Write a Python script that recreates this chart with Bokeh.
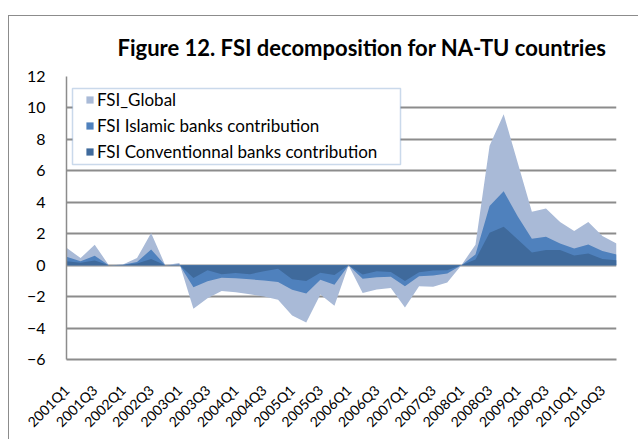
from bokeh.plotting import figure
from bokeh.models import (Range1d, FixedTicker, BoxAnnotation, Legend, LegendItem, Title, InlineStyleSheet)
from bokeh.embed import file_html
from bokeh.resources import INLINE
import math

quarters = ["2001Q1", "2001Q2", "2001Q3", "2001Q4", "2002Q1", "2002Q2", "2002Q3", "2002Q4",
            "2003Q1", "2003Q2", "2003Q3", "2003Q4", "2004Q1", "2004Q2", "2004Q3", "2004Q4",
            "2005Q1", "2005Q2", "2005Q3", "2005Q4", "2006Q1", "2006Q2", "2006Q3", "2006Q4",
            "2007Q1", "2007Q2", "2007Q3", "2007Q4", "2008Q1", "2008Q2", "2008Q3", "2008Q4",
            "2009Q1", "2009Q2", "2009Q3", "2009Q4", "2010Q1", "2010Q2", "2010Q3", "2010Q4"]

fsi_global = [1.1, 0.45, 1.3, 0.0, 0.05, 0.45, 2.05, 0.0, 0.13, -2.78, -2.1, -1.64, -1.72, -1.85,
              -2.0, -2.2, -3.2, -3.65, -1.86, -2.58, 0.0, -1.77, -1.55, -1.45, -2.7, -1.34, -1.38,
              -1.1, 0.0, 1.3, 7.6, 9.6, 6.5, 3.4, 3.6, 2.74, 2.17, 2.74, 1.85, 1.38]
fsi_islamic = [0.53, 0.25, 0.6, 0.0, 0.02, 0.2, 1.0, 0.0, 0.05, -1.4, -1.03, -0.8, -0.83, -0.9,
               -0.98, -1.07, -1.56, -1.8, -0.92, -1.25, 0.0, -0.87, -0.77, -0.74, -1.34, -0.7, -0.66,
               -0.53, 0.0, 0.68, 3.77, 4.7, 3.1, 1.68, 1.8, 1.38, 1.06, 1.32, 0.9, 0.68]
fsi_conventional = [0.25, 0.15, 0.3, 0.0, 0.01, 0.1, 0.4, 0.0, 0.02, -0.82, -0.33, -0.58, -0.5, -0.58,
                    -0.38, -0.22, -0.9, -1.0, -0.48, -0.63, 0.0, -0.6, -0.38, -0.43, -1.0, -0.45, -0.34,
                    -0.32, 0.0, 0.36, 2.06, 2.45, 1.64, 0.8, 0.96, 0.96, 0.62, 0.74, 0.4, 0.32]

y_ticks = [-6, -4, -2, 0, 2, 4, 6, 8, 10, 12]
series_names = ["FSI_Global", "FSI Islamic banks contribution", "FSI Conventionnal banks contribution"]
colors = ["#A9BAD7", "#4F81BD", "#3F6A9C"]

FONT = "Lato"
W, H = 638, 439
x = list(range(len(quarters)))

p = figure(width=W, height=H, output_backend="svg", toolbar_location=None,
           x_range=Range1d(0, len(quarters) - 1), y_range=Range1d(-6, 12),
           min_border_left=66, min_border_right=22, min_border_top=76, min_border_bottom=79)

# outer chart-area border (only its left and top edges are inside the window)
p.stylesheets = [InlineStyleSheet(css=(
    ":host { position: relative; }"
    ":host::after { content: ''; position: absolute; left: 8px; top: 15px; right: 0; bottom: 0;"
    " border-left: 1.5px solid #8C8C8C; border-top: 1.5px solid #8C8C8C;"
    " pointer-events: none; box-sizing: border-box; }"))]

p.title = Title(text="Figure 12. FSI decomposition for NA-TU countries", align="left",
                offset=51, text_font=FONT, text_font_size="22px", text_font_style="bold",
                text_color="#000000", standoff=31)

renderers = []
for vals, c in zip([fsi_global, fsi_islamic, fsi_conventional], colors):
    r = p.varea(x=x, y1=[0] * len(x), y2=vals, fill_color=c)
    renderers.append(r)

p.outline_line_color = None
p.background_fill_color = "white"
p.border_fill_color = "white"

p.xgrid.grid_line_color = None
p.ygrid.grid_line_color = "#8C8C8C"
p.ygrid.grid_line_width = 1.8
p.ygrid.ticker = FixedTicker(ticks=y_ticks)
p.ygrid.level = "underlay"

p.yaxis.ticker = FixedTicker(ticks=y_ticks)
p.yaxis.axis_line_color = "#8C8C8C"
p.yaxis.axis_line_width = 1.5
p.yaxis.major_tick_line_color = None
p.yaxis.minor_tick_line_color = None
p.yaxis.major_tick_out = 0
p.yaxis.major_tick_in = 0
p.yaxis.minor_tick_out = 0
p.yaxis.major_label_standoff = 21
p.yaxis.major_label_text_font = FONT
p.yaxis.major_label_text_font_size = "16px"
p.yaxis.major_label_text_color = "#000000"

p.xaxis.ticker = FixedTicker(ticks=x[::2])
p.xaxis.major_label_overrides = {i: quarters[i] for i in x[::2]}
p.xaxis.major_label_orientation = math.pi / 4
p.xaxis.axis_line_color = "#8C8C8C"
p.xaxis.axis_line_width = 1.8
p.xaxis.major_tick_line_color = None
p.xaxis.minor_tick_line_color = None
p.xaxis.major_tick_out = 0
p.xaxis.major_tick_in = 0
p.xaxis.minor_tick_out = 0
p.xaxis.major_label_standoff = 28
p.xaxis.major_label_text_font = FONT
p.xaxis.major_label_text_font_size = "14px"
p.xaxis.major_label_text_color = "#000000"

# legend box (canvas units)
p.add_layout(BoxAnnotation(left=72, right=400, top=164, bottom=88,
                           left_units="canvas", right_units="canvas",
                           top_units="canvas", bottom_units="canvas",
                           fill_color="white", fill_alpha=1, line_color="#4F81BD", line_width=1.5))

legend = Legend(items=[LegendItem(label=n, renderers=[r]) for n, r in zip(series_names, renderers)],
                location=(19, 197), padding=0, margin=0, spacing=5,
                glyph_width=9, glyph_height=9, label_height=20, label_standoff=3,
                label_text_font=FONT, label_text_font_size="17px", label_text_color="#000000",
                background_fill_alpha=0, border_line_alpha=0)
p.add_layout(legend)

open("out.html", "w").write(file_html(p, INLINE))
